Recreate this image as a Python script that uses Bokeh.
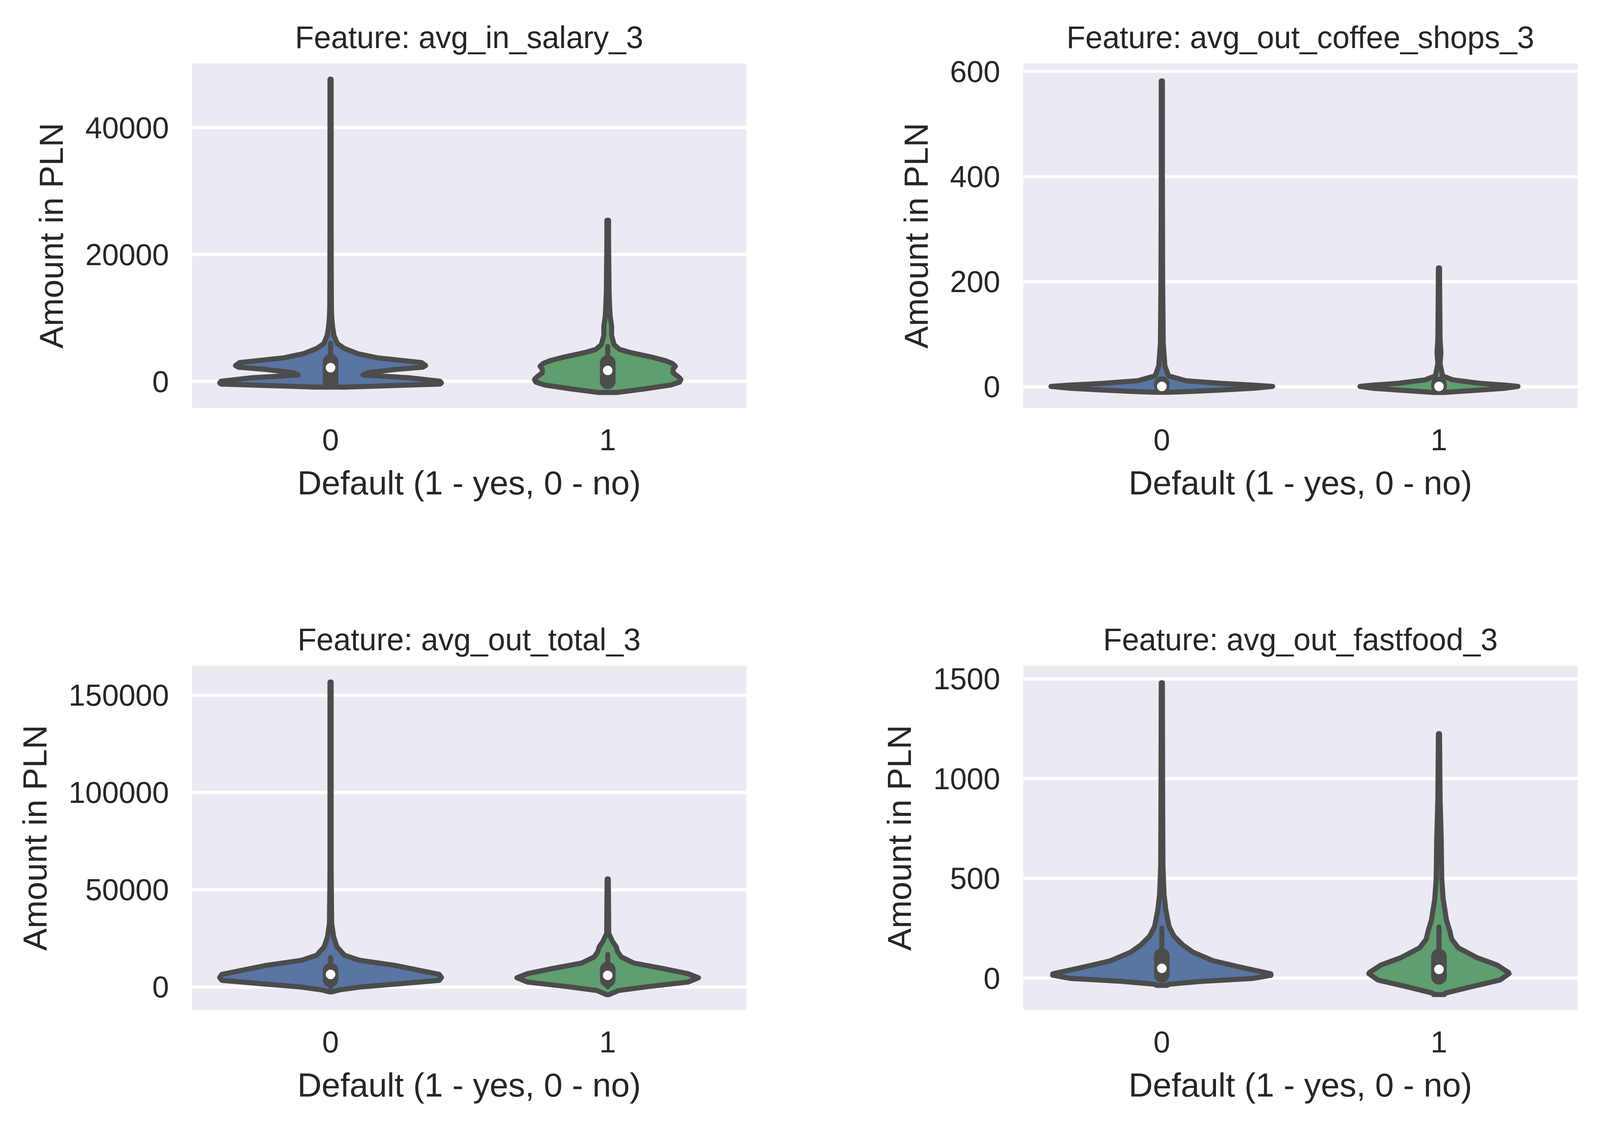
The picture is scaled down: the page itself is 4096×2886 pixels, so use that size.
from bokeh.plotting import figure
from bokeh.layouts import column, row
from bokeh.models import FixedTicker, Range1d
from bokeh.embed import file_html
from bokeh.resources import INLINE

# ---------------- data ----------------
categories = [0, 1]
category_labels = ["0", "1"]
x_label = "Default (1 - yes, 0 - no)"
y_label = "Amount in PLN"

# --- avg_in_salary_3 ---
salary_title = "Feature: avg_in_salary_3"
salary_ylim = [-4185, 50128]
salary_ticks = [0, 20000, 40000]
salary_tick_labels = ["0", "20000", "40000"]
salary_y0 = [-900, -655, -427, -250, 13, 577, 828, 1000, 1344, 1860, 2229, 2500, 2965,
             3705, 4370, 5180, 5917, 7246, 8722, 10198, 11673, 16000, 25000, 35000, 47650]
salary_w0 = [0.055, 0.23, 0.395, 0.40, 0.395, 0.282, 0.179, 0.117, 0.133, 0.230, 0.333, 0.343, 0.328,
             0.169, 0.097, 0.050, 0.025, 0.012, 0.007, 0.004, 0.003, 0.0025, 0.002, 0.002, 0.002]
salary_y1 = [-1757, -1167, -573, -132, 308, 749, 1344, 1938, 2379, 2819, 3260, 3850, 4515,
             5031, 5771, 7246, 8722, 10198, 11673, 14000, 18000, 22000, 25400]
salary_w1 = [0.033, 0.136, 0.228, 0.259, 0.264, 0.254, 0.236, 0.236, 0.244, 0.233, 0.208, 0.156, 0.084,
             0.043, 0.023, 0.014, 0.014, 0.009, 0.007, 0.005, 0.004, 0.003, 0.003]
salary_q1 = [0, 0]
salary_q3 = [3100, 2900]
salary_med = [2150, 1720]
salary_wlo = [0, 0]
salary_whi = [6000, 5500]

# --- avg_out_coffee_shops_3 ---
coffee_title = "Feature: avg_out_coffee_shops_3"
coffee_ylim = [-40.4, 615.2]
coffee_ticks = [0, 200, 400, 600]
coffee_tick_labels = ["0", "200", "400", "600"]
coffee_y0 = [-10.7, -9.5, -6.4, -3, 0.5, 3, 6.2, 11.2, 20.6, 39.5, 83.5, 200, 400, 582]
coffee_w0 = [0.02, 0.087, 0.214, 0.33, 0.40, 0.33, 0.214, 0.087, 0.024, 0.011, 0.005, 0.003, 0.002, 0.002]
coffee_y1 = [-11, -10, -6.4, -3, 0.5, 3, 6.2, 13, 20.6, 44, 64.6, 90, 150, 226]
coffee_w1 = [0.02, 0.049, 0.149, 0.24, 0.285, 0.24, 0.149, 0.049, 0.013, 0.004, 0.007, 0.004, 0.003, 0.002]
coffee_q1 = [0, 0]
coffee_q3 = [5, 4]
coffee_med = [0.5, 0.5]
coffee_wlo = [0, 0]
coffee_whi = [12, 10]

# --- avg_out_total_3 ---
total_title = "Feature: avg_out_total_3"
total_ylim = [-11942, 165237]
total_ticks = [0, 50000, 100000, 150000]
total_tick_labels = ["0", "50000", "100000", "150000"]
total_y0 = [-2600, -1580, -150, 1580, 3310, 4800, 6390, 11080, 13670, 16260, 20580, 25760, 32660,
            60000, 100000, 156800]
total_w0 = [0.004, 0.032, 0.104, 0.248, 0.392, 0.40, 0.392, 0.230, 0.104, 0.050, 0.023, 0.011, 0.004,
            0.002, 0.002, 0.002]
total_y1 = [-4030, -1870, 144, 2450, 4660, 6760, 9350, 12260, 15400, 17990, 20580, 23170, 27480,
            40000, 55500]
total_w1 = [0.004, 0.04, 0.147, 0.29, 0.3275, 0.29, 0.2015, 0.0936, 0.0486, 0.036, 0.0306, 0.018, 0.0036,
            0.003, 0.002]
total_q1 = [3740, 3740]
total_q3 = [8380, 8920]
total_med = [6390, 5900]
total_wlo = [0, 0]
total_whi = [15000, 16700]

# --- avg_out_fastfood_3 ---
fastfood_title = "Feature: avg_out_fastfood_3"
fastfood_ylim = [-160, 1566]
fastfood_ticks = [0, 500, 1000, 1500]
fastfood_tick_labels = ["0", "500", "1000", "1500"]
fastfood_y0 = [-36, -31, -16, -1.4, 14.4, 22, 55, 87, 130, 167, 210, 259, 345, 420, 560, 880, 1480]
fastfood_w0 = [0.02, 0.023, 0.145, 0.33, 0.394, 0.393, 0.283, 0.185, 0.112, 0.075, 0.044, 0.026,
               0.014, 0.008, 0.004, 0.003, 0.002]
fastfood_y1 = [-82, -74.6, -42, -9.8, 22.4, 28, 66, 103, 151.5, 195, 237, 291, 398, 500, 700, 900, 1225]
fastfood_w1 = [0.02, 0.024, 0.12, 0.22, 0.253, 0.251, 0.209, 0.136, 0.07, 0.046, 0.039, 0.027,
               0.015, 0.01, 0.008, 0.004, 0.002]
fastfood_q1 = [17, 7]
fastfood_q3 = [111, 108]
fastfood_med = [49, 44]
fastfood_wlo = [0, 0]
fastfood_whi = [251, 256]

# ---------------- styling ----------------
FONT = "Liberation Sans"
TEXT = "#262626"
BG = "#EAEAF2"
GRAY = "#4c4c4c"
COLORS = ["#5875A3", "#5F9E6E"]
OUTLINE_W = 13
BOX_W = 40
TITLE_SIZE = "79px"
TICK_SIZE = "77px"
LABEL_SIZE = "86px"

FRAME_W = 1419
FRAME_H = 882


def panel(title, ylim, ticks, tick_labels, outlines, q1, q3, med, wlo, whi,
          bl, br, bt, bb):
    width = bl + FRAME_W + br
    height = bt + FRAME_H + bb
    p = figure(width=width, height=height, title=title,
               x_range=Range1d(-0.5, 1.5), y_range=Range1d(ylim[0], ylim[1]),
               output_backend="svg", toolbar_location=None,
               min_border_left=bl, min_border_right=br,
               min_border_top=bt, min_border_bottom=bb)
    p.background_fill_color = BG
    p.border_fill_color = "white"
    p.outline_line_color = None

    p.title.text_font = FONT
    p.title.text_font_size = TITLE_SIZE
    p.title.text_font_style = "normal"
    p.title.text_color = TEXT
    p.title.align = "center"
    p.title.standoff = 45

    for ax in (p.xaxis[0], p.yaxis[0]):
        ax.major_tick_in = 0
        ax.major_tick_out = 0
        ax.minor_tick_in = 0
        ax.minor_tick_out = 0
        ax.axis_line_color = None
        ax.major_label_text_font = FONT
        ax.major_label_text_font_size = TICK_SIZE
        ax.major_label_text_color = TEXT
        ax.axis_label_text_font = FONT
        ax.axis_label_text_font_size = LABEL_SIZE
        ax.axis_label_text_font_style = "normal"
        ax.axis_label_text_color = TEXT

    p.xaxis.ticker = FixedTicker(ticks=categories)
    p.xaxis.major_label_overrides = {c: l for c, l in zip(categories, category_labels)}
    p.xaxis.axis_label = x_label
    p.xaxis.major_label_standoff = 54
    p.xaxis.axis_label_standoff = 32

    p.yaxis.ticker = FixedTicker(ticks=ticks)
    p.yaxis.major_label_overrides = {t: l for t, l in zip(ticks, tick_labels)}
    p.yaxis.axis_label = y_label
    p.yaxis.major_label_standoff = 59
    p.yaxis.axis_label_standoff = 36

    p.xgrid.grid_line_color = None
    p.ygrid.grid_line_color = "white"
    p.ygrid.grid_line_width = 8

    for c, (ys, ws), col in zip(categories, outlines, COLORS):
        xs = [c + w for w in ws] + [c - w for w in reversed(ws)]
        yy = list(ys) + list(reversed(ys))
        p.patch(xs, yy, fill_color=col, line_color=GRAY, line_width=OUTLINE_W,
                line_join="round")

    p.segment(x0=categories, y0=wlo, x1=categories, y1=whi, line_color=GRAY,
              line_width=OUTLINE_W, line_cap="round")
    p.segment(x0=categories, y0=q1, x1=categories, y1=q3, line_color=GRAY,
              line_width=BOX_W, line_cap="round")
    p.scatter(x=categories, y=med, size=26, marker="circle", fill_color="white",
              line_color=GRAY, line_width=1.5)
    return p


# layout borders (px)
L1, R1 = 491, 290
L2, R2 = 419, 40
T1, B1 = 162, 356
T2, B2 = 304, 280

p1 = panel(salary_title, salary_ylim, salary_ticks, salary_tick_labels,
           [(salary_y0, salary_w0), (salary_y1, salary_w1)],
           salary_q1, salary_q3, salary_med, salary_wlo, salary_whi, L1, R1, T1, B1)
p2 = panel(coffee_title, coffee_ylim, coffee_ticks, coffee_tick_labels,
           [(coffee_y0, coffee_w0), (coffee_y1, coffee_w1)],
           coffee_q1, coffee_q3, coffee_med, coffee_wlo, coffee_whi, L2, R2, T1, B1)
p3 = panel(total_title, total_ylim, total_ticks, total_tick_labels,
           [(total_y0, total_w0), (total_y1, total_w1)],
           total_q1, total_q3, total_med, total_wlo, total_whi, L1, R1, T2, B2)
p4 = panel(fastfood_title, fastfood_ylim, fastfood_ticks, fastfood_tick_labels,
           [(fastfood_y0, fastfood_w0), (fastfood_y1, fastfood_w1)],
           fastfood_q1, fastfood_q3, fastfood_med, fastfood_wlo, fastfood_whi, L2, R2, T2, B2)

layout = column(row(p1, p2, spacing=0), row(p3, p4, spacing=0), spacing=0)

open("out.html", "w").write(file_html(layout, INLINE))
